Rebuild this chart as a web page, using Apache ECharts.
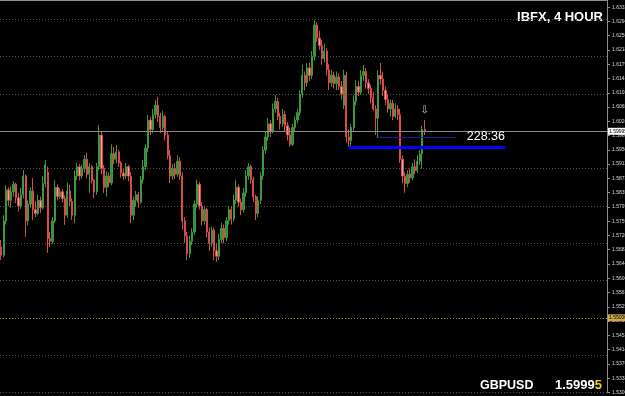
<!DOCTYPE html>
<html>
<head>
<meta charset="utf-8">
<script src="https://cdn.jsdelivr.net/npm/echarts@6/dist/echarts.min.js"></script>
<style>
  html, body { margin: 0; padding: 0; background: #000; }
  #chart { width: 625px; height: 396px; }
</style>
</head>
<body>
<div id="chart"></div>
<script>
// GBPUSD 4H bars, each row is [open, close, low, high]
const candles = [
  [1.5690, 1.5668, 1.5655, 1.5709], [1.5668, 1.5760, 1.5662, 1.5775], [1.5760, 1.5843, 1.5750, 1.5856],
  [1.5843, 1.5815, 1.5800, 1.5850], [1.5815, 1.5838, 1.5795, 1.5852], [1.5838, 1.5858, 1.5825, 1.5866],
  [1.5858, 1.5822, 1.5808, 1.5862], [1.5822, 1.5800, 1.5785, 1.5835], [1.5800, 1.5830, 1.5792, 1.5848],
  [1.5830, 1.5880, 1.5820, 1.5896], [1.5880, 1.5760, 1.5717, 1.5885], [1.5760, 1.5805, 1.5748, 1.5815],
  [1.5805, 1.5840, 1.5795, 1.5850], [1.5840, 1.5790, 1.5762, 1.5875], [1.5790, 1.5780, 1.5770, 1.5812],
  [1.5780, 1.5815, 1.5775, 1.5830], [1.5815, 1.5795, 1.5781, 1.5825], [1.5795, 1.5860, 1.5790, 1.5880],
  [1.5860, 1.5910, 1.5850, 1.5923], [1.5890, 1.5712, 1.5674, 1.5905], [1.5712, 1.5705, 1.5690, 1.5730],
  [1.5705, 1.5760, 1.5698, 1.5770], [1.5760, 1.5850, 1.5755, 1.5870], [1.5850, 1.5825, 1.5815, 1.5858],
  [1.5825, 1.5838, 1.5818, 1.5848], [1.5838, 1.5820, 1.5810, 1.5845], [1.5820, 1.5775, 1.5749, 1.5828],
  [1.5775, 1.5840, 1.5768, 1.5862], [1.5840, 1.5812, 1.5800, 1.5856], [1.5812, 1.5775, 1.5762, 1.5820],
  [1.5775, 1.5880, 1.5754, 1.5895], [1.5880, 1.5905, 1.5870, 1.5915], [1.5905, 1.5880, 1.5868, 1.5912],
  [1.5880, 1.5900, 1.5872, 1.5910], [1.5900, 1.5925, 1.5890, 1.5936], [1.5925, 1.5885, 1.5875, 1.5942],
  [1.5885, 1.5905, 1.5835, 1.5915], [1.5905, 1.5868, 1.5860, 1.5910], [1.5868, 1.5838, 1.5821, 1.5872],
  [1.5838, 1.5905, 1.5830, 1.5915], [1.5905, 1.5990, 1.5895, 1.6017], [1.5990, 1.5900, 1.5885, 1.6000],
  [1.5900, 1.5850, 1.5835, 1.5910], [1.5850, 1.5880, 1.5825, 1.5892], [1.5880, 1.5862, 1.5850, 1.5890],
  [1.5862, 1.5940, 1.5855, 1.5965], [1.5940, 1.5925, 1.5912, 1.5958], [1.5925, 1.5945, 1.5915, 1.5963],
  [1.5945, 1.5915, 1.5905, 1.5950], [1.5915, 1.5888, 1.5875, 1.5920], [1.5888, 1.5880, 1.5870, 1.5898],
  [1.5880, 1.5905, 1.5872, 1.5915], [1.5905, 1.5880, 1.5866, 1.5910], [1.5880, 1.5775, 1.5754, 1.5890],
  [1.5775, 1.5815, 1.5762, 1.5825], [1.5815, 1.5830, 1.5800, 1.5840], [1.5830, 1.5810, 1.5795, 1.5838],
  [1.5810, 1.5870, 1.5805, 1.5880], [1.5870, 1.5905, 1.5860, 1.5923], [1.5905, 1.5955, 1.5895, 1.5965],
  [1.5955, 1.6030, 1.5945, 1.6044], [1.6030, 1.6005, 1.5990, 1.6040], [1.6005, 1.6045, 1.5995, 1.6060],
  [1.6045, 1.6070, 1.6035, 1.6084], [1.6070, 1.6040, 1.6025, 1.6092], [1.6040, 1.6010, 1.5995, 1.6050],
  [1.6010, 1.6040, 1.6000, 1.6055], [1.6040, 1.5990, 1.5975, 1.6045], [1.5990, 1.5935, 1.5925, 1.6000],
  [1.5935, 1.5880, 1.5861, 1.5950], [1.5880, 1.5900, 1.5870, 1.5912], [1.5900, 1.5885, 1.5872, 1.5915],
  [1.5885, 1.5920, 1.5878, 1.5936], [1.5920, 1.5880, 1.5870, 1.5930], [1.5880, 1.5760, 1.5736, 1.5890],
  [1.5760, 1.5720, 1.5700, 1.5770], [1.5720, 1.5672, 1.5655, 1.5730], [1.5672, 1.5705, 1.5660, 1.5720],
  [1.5705, 1.5730, 1.5695, 1.5740], [1.5730, 1.5805, 1.5722, 1.5815], [1.5805, 1.5858, 1.5795, 1.5870],
  [1.5858, 1.5800, 1.5790, 1.5865], [1.5800, 1.5760, 1.5748, 1.5810], [1.5760, 1.5790, 1.5750, 1.5800],
  [1.5790, 1.5730, 1.5715, 1.5795], [1.5730, 1.5700, 1.5680, 1.5742], [1.5700, 1.5735, 1.5690, 1.5745],
  [1.5735, 1.5680, 1.5655, 1.5742], [1.5680, 1.5665, 1.5650, 1.5700], [1.5665, 1.5710, 1.5655, 1.5725],
  [1.5710, 1.5740, 1.5700, 1.5755], [1.5740, 1.5715, 1.5700, 1.5750], [1.5715, 1.5760, 1.5705, 1.5770],
  [1.5760, 1.5790, 1.5750, 1.5800], [1.5790, 1.5765, 1.5750, 1.5798], [1.5765, 1.5815, 1.5758, 1.5830],
  [1.5815, 1.5850, 1.5805, 1.5870], [1.5850, 1.5810, 1.5798, 1.5858], [1.5810, 1.5790, 1.5775, 1.5820],
  [1.5790, 1.5835, 1.5782, 1.5848], [1.5835, 1.5880, 1.5825, 1.5896], [1.5880, 1.5905, 1.5870, 1.5915],
  [1.5905, 1.5870, 1.5860, 1.5910], [1.5870, 1.5825, 1.5810, 1.5878], [1.5825, 1.5780, 1.5762, 1.5830],
  [1.5780, 1.5815, 1.5770, 1.5825], [1.5815, 1.5880, 1.5805, 1.5890], [1.5880, 1.5950, 1.5870, 1.5960],
  [1.5950, 1.5985, 1.5940, 1.6000], [1.5985, 1.6020, 1.5975, 1.6035], [1.6020, 1.6000, 1.5985, 1.6030],
  [1.6000, 1.6060, 1.5995, 1.6075], [1.6060, 1.6080, 1.6050, 1.6097], [1.6080, 1.6040, 1.6030, 1.6090],
  [1.6040, 1.6020, 1.6005, 1.6050], [1.6020, 1.6045, 1.6012, 1.6060], [1.6045, 1.6015, 1.6000, 1.6055],
  [1.6015, 1.5990, 1.5975, 1.6025], [1.5990, 1.5965, 1.5958, 1.6010], [1.5965, 1.6010, 1.5960, 1.6020],
  [1.6010, 1.6030, 1.6000, 1.6040], [1.6030, 1.6050, 1.6022, 1.6060], [1.6050, 1.6100, 1.6042, 1.6110],
  [1.6100, 1.6150, 1.6090, 1.6178], [1.6150, 1.6130, 1.6110, 1.6160], [1.6130, 1.6170, 1.6120, 1.6183],
  [1.6170, 1.6150, 1.6135, 1.6185], [1.6150, 1.6200, 1.6140, 1.6215], [1.6200, 1.6285, 1.6190, 1.6298],
  [1.6285, 1.6250, 1.6240, 1.6292], [1.6250, 1.6230, 1.6218, 1.6270], [1.6230, 1.6195, 1.6178, 1.6245],
  [1.6195, 1.6215, 1.6185, 1.6235], [1.6215, 1.6165, 1.6150, 1.6222], [1.6165, 1.6130, 1.6111, 1.6180],
  [1.6130, 1.6150, 1.6120, 1.6165], [1.6150, 1.6128, 1.6115, 1.6160], [1.6128, 1.6145, 1.6110, 1.6160],
  [1.6145, 1.6120, 1.6111, 1.6155], [1.6120, 1.6100, 1.6085, 1.6135], [1.6070, 1.6150, 1.6060, 1.6165],
  [1.6150, 1.5985, 1.5970, 1.6160], [1.5985, 1.5975, 1.5958, 1.6005], [1.5975, 1.6010, 1.5960, 1.6020],
  [1.6010, 1.6080, 1.6000, 1.6097], [1.6080, 1.6120, 1.6070, 1.6137], [1.6120, 1.6105, 1.6095, 1.6135],
  [1.6105, 1.6150, 1.6098, 1.6164], [1.6150, 1.6160, 1.6135, 1.6178], [1.6160, 1.6130, 1.6115, 1.6170],
  [1.6130, 1.6115, 1.6100, 1.6140], [1.6115, 1.6090, 1.6075, 1.6125], [1.6090, 1.6060, 1.6055, 1.6105],
  [1.6060, 1.6035, 1.5990, 1.6070], [1.6035, 1.6150, 1.5982, 1.6164], [1.6150, 1.6140, 1.6125, 1.6183],
  [1.6140, 1.6110, 1.6095, 1.6160], [1.6110, 1.6085, 1.6070, 1.6120], [1.6085, 1.6060, 1.6050, 1.6100],
  [1.6060, 1.6075, 1.6040, 1.6085], [1.6075, 1.6040, 1.6030, 1.6084], [1.6040, 1.6060, 1.6035, 1.6075],
  [1.6060, 1.6045, 1.6030, 1.6070], [1.6045, 1.5925, 1.5915, 1.6060], [1.5925, 1.5880, 1.5861, 1.5935],
  [1.5880, 1.5860, 1.5835, 1.5890], [1.5860, 1.5885, 1.5850, 1.5895], [1.5885, 1.5875, 1.5862, 1.5900],
  [1.5875, 1.5905, 1.5868, 1.5915], [1.5905, 1.5895, 1.5885, 1.5925], [1.5895, 1.5920, 1.5888, 1.5936],
  [1.5920, 1.5940, 1.5910, 1.5950], [1.5940, 1.6005, 1.5900, 1.6015], [1.6005, 1.59995, 1.5990, 1.6030]
];

const slotCount = 248;          // bar slots across the window (chart shift leaves the right part empty)
const bidPrice = 1.59995;
const alertLevel = 1.55;
const gridStep = 0.01;
const labelStep = 0.003825;
const priceMin = 1.53;
const priceMax = 1.6352;
const supportLine = { from: 142, to: 206, price: 1.5958 };
const entryLine = { from: 153, to: 186, price: 1.5985 };
const timerText = { slot: 198, price: 1.5987, text: '228:36' };
const arrowMark = { slot: 173, price: 1.6056 };

const slots = [];
for (let i = 0; i < slotCount; i++) slots.push(String(i));

const chart = echarts.init(document.getElementById('chart'), null, { renderer: 'canvas' });

const option = {
  backgroundColor: '#000',
  animation: false,
  // labels are allowed to run off the right edge, as in the terminal window
  grid: { left: 0, right: 18, top: 0, bottom: 3.6, containLabel: false, outerBoundsMode: 'none' },
  xAxis: {
    type: 'category',
    data: slots,
    position: 'top',
    boundaryGap: true,
    axisLine: { show: true, lineStyle: { color: '#8c8c8c', width: 1 } },
    axisTick: { show: false },
    axisLabel: { show: false },
    splitLine: { show: false }
  },
  yAxis: [
    {
      type: 'value',
      position: 'right',
      min: priceMin,
      max: priceMax,
      interval: gridStep,
      axisLine: { show: true, lineStyle: { color: '#8c8c8c' } },
      axisTick: { show: false },
      axisLabel: { show: false },
      splitLine: { show: true, lineStyle: { color: '#555555', type: [1, 2], width: 1 } }
    },
    {
      type: 'value',
      position: 'right',
      min: priceMin,
      max: priceMax,
      interval: labelStep,
      axisLine: { show: false },
      axisTick: { show: true, length: 3, lineStyle: { color: '#8c8c8c' } },
      axisLabel: {
        show: true,
        color: '#d8d8d8',
        fontSize: 5,
        margin: 5,
        fontFamily: 'Liberation Sans',
        showMaxLabel: false,
        formatter: v => v.toFixed(5)
      },
      splitLine: { show: false }
    }
  ],
  series: [
    {
      type: 'candlestick',
      data: candles,
      barWidth: 1.8,
      itemStyle: {
        color: '#2f8f3a',
        color0: '#f4a49c',
        borderColor: '#3c9a3c',
        borderColor0: '#d94a4a',
        borderWidth: 1
      },
      markLine: {
        silent: true,
        symbol: ['none', 'none'],
        animation: false,
        data: [
          {
            yAxis: bidPrice,
            lineStyle: { color: '#8a8a8a', type: 'solid', width: 1 },
            label: {
              show: true, position: 'end', distance: 1, formatter: bidPrice.toFixed(5),
              backgroundColor: '#ffffff', color: '#000', fontSize: 5, padding: [1, 1],
              fontFamily: 'Liberation Sans'
            }
          },
          {
            yAxis: alertLevel,
            lineStyle: { color: '#a08a35', type: [1, 2], width: 1 },
            label: {
              show: true, position: 'end', distance: 1, formatter: alertLevel.toFixed(5),
              backgroundColor: '#cfa94a', color: '#000', fontSize: 5, padding: [1, 1],
              fontFamily: 'Liberation Sans'
            }
          },
          [
            { coord: [supportLine.from, supportLine.price], lineStyle: { color: '#0000ff', width: 3, type: 'solid' }, label: { show: false } },
            { coord: [supportLine.to, supportLine.price] }
          ],
          [
            { coord: [entryLine.from, entryLine.price], lineStyle: { color: '#1c1ca8', width: 1, type: 'solid' }, label: { show: false } },
            { coord: [entryLine.to, entryLine.price] }
          ]
        ]
      },
      markPoint: {
        silent: true,
        animation: false,
        symbol: 'circle',
        symbolSize: 1,
        itemStyle: { color: 'rgba(0,0,0,0)' },
        data: [
          {
            coord: [arrowMark.slot, arrowMark.price],
            label: { show: true, position: 'inside', formatter: '\u21e9', color: '#c8c8c8', fontSize: 10, fontFamily: 'DejaVu Sans' }
          },
          {
            coord: [timerText.slot, timerText.price],
            label: { show: true, position: 'inside', formatter: timerText.text, color: '#ffffff', fontSize: 12.5, fontFamily: 'Liberation Sans' }
          }
        ]
      }
    }
  ],
  graphic: [
    {
      type: 'text', right: 22, top: 11,
      style: { text: 'IBFX, 4 HOUR', fill: '#fff', font: 'bold 13px "Liberation Sans"' }
    },
    {
      type: 'text', left: 480, top: 379,
      style: { text: 'GBPUSD', fill: '#fff', font: 'bold 12.5px "Liberation Sans"' }
    },
    {
      type: 'text', left: 555, top: 379,
      style: {
        text: '{a|1.5999}{b|5}',
        rich: {
          a: { fill: '#fff', font: 'bold 13px "Liberation Sans"' },
          b: { fill: '#f2d21e', font: 'bold 13px "Liberation Sans"' }
        }
      }
    }
  ]
};

chart.setOption(option);
</script>
</body>
</html>
